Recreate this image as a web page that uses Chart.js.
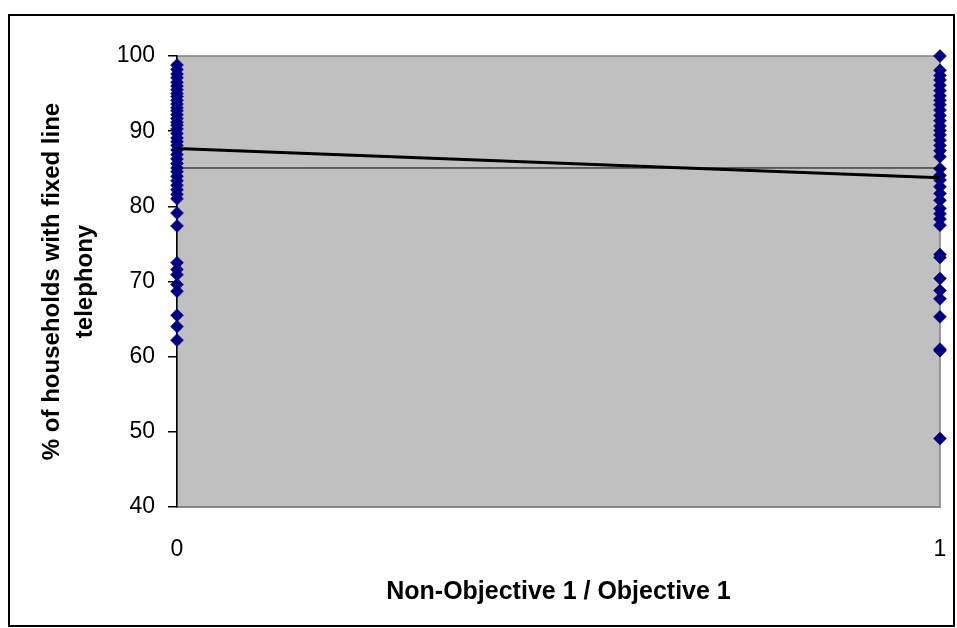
<!DOCTYPE html>
<html>
<head>
<meta charset="utf-8">
<script src="https://cdn.jsdelivr.net/npm/chart.js@4/dist/chart.umd.min.js"></script>
<style>
  html, body { margin: 0; padding: 0; background: #fff; }
  #wrap { width: 957px; height: 628px; position: relative; }
</style>
</head>
<body>
<div id="wrap"><canvas id="myChart" width="957" height="628"></canvas></div>
<script>
// % households with fixed line telephony, by region group
const nonObjective1 = [
  98.8, 98.2, 97.6, 97.1, 96.5, 96.0, 95.5, 95.0, 94.6, 94.1, 93.6, 93.1,
  92.7, 92.2, 91.7, 91.2, 90.8, 90.3, 89.7, 89.1, 88.6, 88.1, 87.5, 86.9,
  86.3, 85.7, 85.1, 84.6, 84.0, 83.4, 82.8, 82.2, 81.6, 81.0, 79.1, 77.4,
  72.5, 71.6, 70.9, 69.6, 68.7, 65.5, 64.0, 62.2
];
const objective1 = [
  100.0, 98.1, 97.4, 96.8, 96.1, 95.4, 94.7, 94.1, 93.5, 92.8, 92.1, 91.4,
  90.7, 90.1, 89.5, 88.8, 88.1, 87.4, 86.6, 85.0, 84.1, 83.5, 82.6, 81.7,
  80.8, 79.7, 79.0, 78.3, 77.5, 73.6, 73.2, 70.4, 68.8, 67.7, 65.3, 61.0,
  60.8, 49.1
];
const groupX = [0, 1];
const trendLine = [87.7, 83.8];
const meanLine = [85.1, 85.1];
const yTicks = [40, 50, 60, 70, 80, 90, 100];

const FONT = "'Liberation Sans', Arial, sans-serif";

const plotBg = {
  id: 'plotBg',
  beforeDraw(chart) {
    const { ctx, chartArea: a } = chart;
    ctx.save();
    ctx.strokeStyle = '#000';
    ctx.lineWidth = 2;
    ctx.strokeRect(9, 15, 945, 611);
    ctx.fillStyle = '#c0c0c0';
    ctx.fillRect(a.left, a.top, a.right - a.left, a.bottom - a.top);
    ctx.strokeStyle = '#808080';
    ctx.lineWidth = 1.5;
    ctx.strokeRect(a.left, a.top, a.right - a.left, a.bottom - a.top);
    ctx.restore();
  }
};

const toPts = (vals, x) => vals.map(v => ({ x: x, y: v }));

const ctx = document.getElementById('myChart').getContext('2d');
window.myChart = new Chart(ctx, {
  type: 'scatter',
  data: {
    datasets: [
      {
        data: groupX.map((x, i) => ({ x: x, y: trendLine[i] })),
        showLine: true,
        borderColor: '#000',
        borderWidth: 3,
        pointRadius: 0,
        order: 0
      },
      {
        data: groupX.map((x, i) => ({ x: x, y: meanLine[i] })),
        showLine: true,
        borderColor: '#000',
        borderWidth: 1,
        pointRadius: 0,
        order: 1
      },
      {
        data: toPts(nonObjective1, groupX[0]),
        pointStyle: 'rectRot',
        pointRadius: 6.5,
        backgroundColor: '#000080',
        borderColor: '#000080',
        borderWidth: 0.5,
        clip: false,
        order: 2
      },
      {
        data: toPts(objective1, groupX[1]),
        pointStyle: 'rectRot',
        pointRadius: 6.5,
        backgroundColor: '#000080',
        borderColor: '#000080',
        borderWidth: 0.5,
        clip: false,
        order: 2
      }
    ]
  },
  options: {
    responsive: false,
    animation: false,
    layout: { padding: { top: 56, right: 17, left: 0, bottom: 0 } },
    plugins: {
      legend: { display: false },
      tooltip: { enabled: false }
    },
    scales: {
      x: {
        type: 'linear',
        min: 0,
        max: 1,
        afterFit: (s) => { s.height = 121; s.paddingLeft = 0; s.paddingRight = 0; },
        afterBuildTicks: (s) => { s.ticks = groupX.map(v => ({ value: v })); },
        grid: { display: false },
        border: { display: true, color: '#808080', width: 1.5 },
        ticks: { color: '#000', font: { family: FONT, size: 23 }, padding: 21, maxRotation: 0 },
        title: {
          display: true,
          text: 'Non-Objective 1 / Objective 1',
          color: '#000',
          font: { family: FONT, size: 25, weight: 'bold', lineHeight: 1.2 },
          padding: { top: 0, bottom: 21 }
        }
      },
      y: {
        min: 40,
        max: 100,
        afterFit: (s) => { s.width = 177; },
        afterBuildTicks: (s) => { s.ticks = yTicks.map(v => ({ value: v })); },
        grid: { drawOnChartArea: false, drawTicks: true, tickLength: 9, color: '#000', lineWidth: 1.5 },
        border: { display: true, color: '#000', width: 1.5 },
        ticks: { color: '#000', font: { family: FONT, size: 23 }, padding: 13 },
        title: {
          display: true,
          text: ['% of households with fixed line', 'telephony'],
          color: '#000',
          font: { family: FONT, size: 24, weight: 'bold', lineHeight: 1.375 },
          padding: { top: 36, bottom: 0 }
        }
      }
    }
  },
  plugins: [plotBg]
});
</script>
</body>
</html>
